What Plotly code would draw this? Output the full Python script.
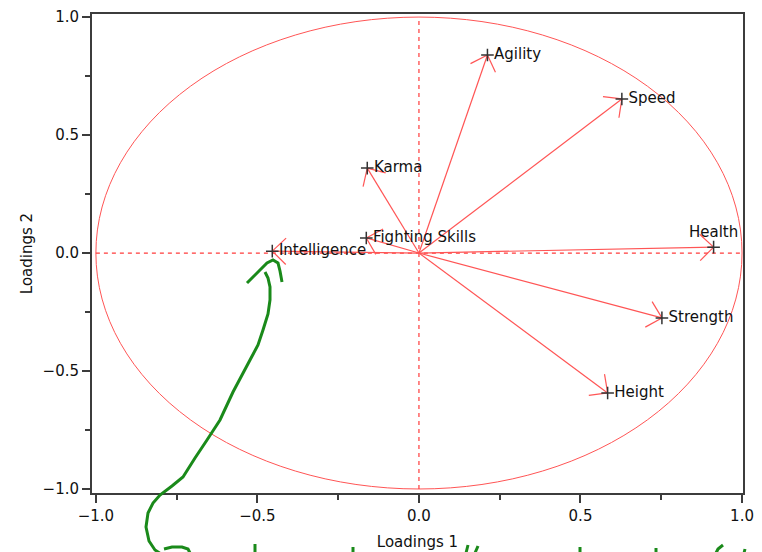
import math
import plotly.graph_objects as go

# ---- data ----
variables = ["Agility", "Speed", "Karma", "Fighting Skills", "Intelligence",
             "Health", "Strength", "Height"]
loadings1 = [0.212, 0.628, -0.160, -0.163, -0.454, 0.912, 0.752, 0.584]
loadings2 = [0.839, 0.653, 0.360, 0.064, 0.008, 0.025, -0.275, -0.593]
label_pos = ["middle right", "middle right", "middle right", "middle right",
             "middle right", "top center", "middle right", "middle right"]
x_ticks = [-1.0, -0.5, 0.0, 0.5, 1.0]
y_ticks = [-1.0, -0.5, 0.0, 0.5, 1.0]

# ---- layout constants (page body adds an 8px offset) ----
OFF = 8
W, H = 762, 552
ML, MT = 92 - OFF, 14 - OFF
MR = W - (743 - OFF)
MB = H - (493 - OFF)
XR = [-1.012, 1.003]
YR = [-1.017, 1.013]
pw, ph = W - ML - MR, H - MT - MB
sx = pw / (XR[1] - XR[0])
sy = ph / (YR[1] - YR[0])

RED = "#ff5555"
FONT = "DejaVu Sans"

fig = go.Figure()

# unit circle
fig.add_shape(type="circle", xref="x", yref="y", x0=-1, x1=1, y0=-1, y1=1,
              line=dict(color=RED, width=1), layer="below")
# dashed axes lines
fig.add_shape(type="line", xref="x", yref="y", x0=-1, x1=1, y0=0, y1=0,
              line=dict(color="#ff3b3b", width=1.2, dash="4px,4px"), layer="below")
fig.add_shape(type="line", xref="x", yref="y", x0=0, x1=0, y0=-1, y1=1,
              line=dict(color="#ff3b3b", width=1.2, dash="4px,4px"), layer="below")

# arrows (shaft + open head computed in pixel space)
L, ang = 19, math.radians(44)
for x, y in zip(loadings1, loadings2):
    dx, dy = -x * sx, y * sy
    n = math.hypot(dx, dy)
    ux, uy = dx / n, dy / n
    xs, ys = [0, x, None], [0, y, None]
    for s in (ang, -ang):
        bx = ux * math.cos(s) - uy * math.sin(s)
        by = ux * math.sin(s) + uy * math.cos(s)
        xs += [x + bx * L / sx, x, None]
        ys += [y - by * L / sy, y, None]
    fig.add_trace(go.Scatter(x=xs, y=ys, mode="lines",
                             line=dict(color=RED, width=1.2),
                             hoverinfo="skip", showlegend=False))

# markers + labels
fig.add_trace(go.Scatter(
    x=loadings1, y=loadings2, mode="markers+text", text=variables,
    textposition=label_pos,
    textfont=dict(family=FONT, size=15, color="#111111"),
    marker=dict(symbol="cross-thin", size=9,
                line=dict(color="#333333", width=1.5)),
    showlegend=False))

# ---- hand-drawn green annotation (screen pixel coordinates -> paper) ----
def P(X, Y):
    return (X - OFF - ML) / pw, (H - MB - (Y - OFF)) / ph

def path(pts):
    s = ""
    for i, (X, Y) in enumerate(pts):
        px, py = P(X, Y)
        s += ("M" if i == 0 else "L") + f"{px:.5f},{py:.5f} "
    return s

GREEN = "#1a8a1a"
curve = [(161, 554), (155, 550), (149, 541), (146, 527), (148, 513), (153, 503),
         (160, 495), (172, 486), (183, 477), (195, 458), (207, 440), (220, 420),
         (233, 392), (250, 360), (258, 345), (263, 330), (268, 314), (270, 300),
         (270, 287), (268, 278), (265, 272)]
head = [(247, 283), (253, 277), (260, 270), (267, 263), (273, 260), (278, 263),
        (280, 271), (282, 282)]
strokes = [
    [(164, 549), (172, 547), (182, 547), (188, 549), (190, 553)],
    [(255, 544), (255, 553)],
    [(353, 547), (353, 553)],
    [(468, 545), (466, 553)],
    [(478, 546), (475, 553)],
    [(580, 547), (580, 553)],
    [(656, 548), (656, 553)],
    [(723, 545), (718, 549), (716, 553)],
    [(745, 549), (744, 553)],
]
for pts in [curve, head] + strokes:
    fig.add_shape(type="path", xref="paper", yref="paper", path=path(pts),
                  line=dict(color=GREEN, width=3), layer="above")

axis_common = dict(
    showgrid=False, zeroline=False, showline=True, mirror=True,
    linecolor="#3c3c3c", linewidth=2, ticks="outside", ticklen=8,
    tickwidth=1.5, tickcolor="#3c3c3c", tickformat=".1f", automargin=False,
    tickfont=dict(family=FONT, size=15, color="#111111"),
    minor=dict(dtick=0.25, ticks="outside", ticklen=5, tickwidth=1.5,
               tickcolor="#3c3c3c", showgrid=False),
)
fig.update_xaxes(range=XR, tickvals=x_ticks, **axis_common,
                 title=dict(text="Loadings 1", standoff=12,
                            font=dict(family=FONT, size=15, color="#111111")))
fig.update_yaxes(range=YR, tickvals=y_ticks, **axis_common,
                 title=dict(text="Loadings 2", standoff=6,
                            font=dict(family=FONT, size=15, color="#111111")))

fig.update_layout(width=W, height=H,
                  margin=dict(l=ML, r=MR, t=MT, b=MB, pad=0, autoexpand=False),
                  paper_bgcolor="white", plot_bgcolor="white",
                  showlegend=False)

fig.write_html("out.html")
